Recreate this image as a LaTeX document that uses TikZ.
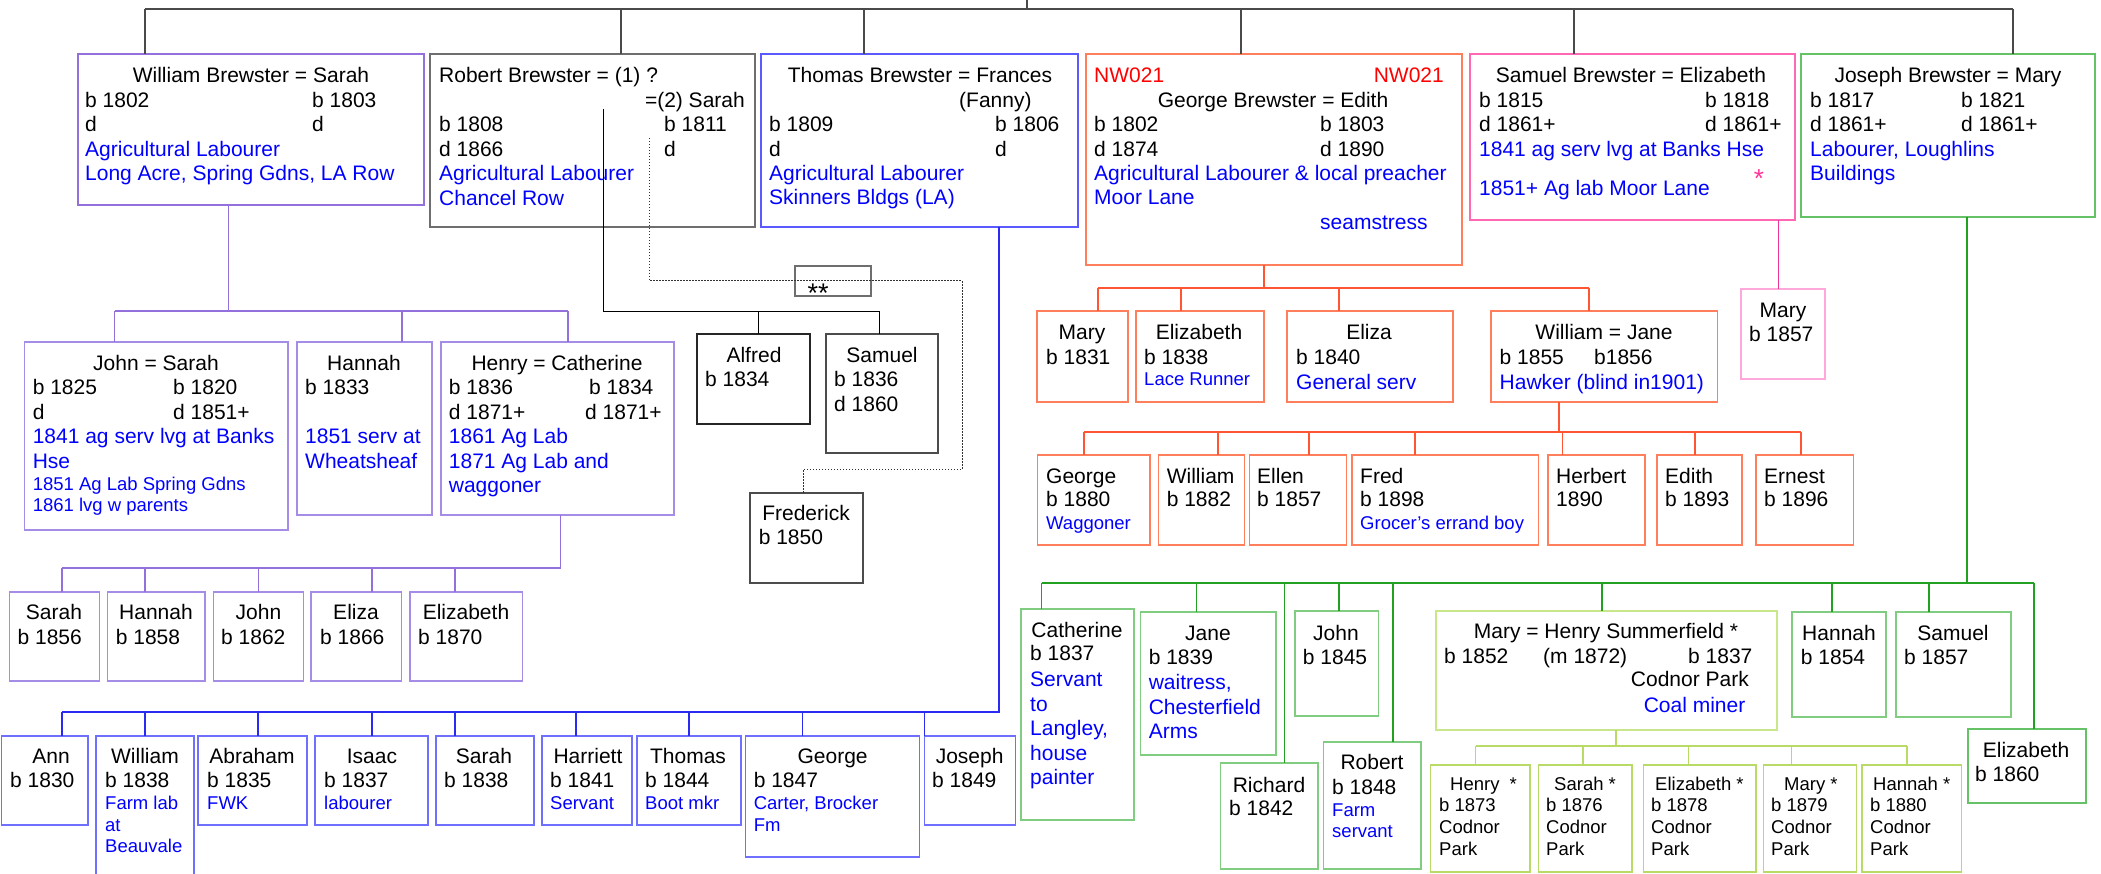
\documentclass[tikz,border=0pt]{standalone}
\usepackage{fontspec}
\setmainfont{Liberation Sans}

\definecolor{topcol}{HTML}{4A4A4A}
\definecolor{rgraycol}{HTML}{6E6E6E}
\definecolor{wpurcol}{HTML}{9370DB}
\definecolor{wkidcol}{HTML}{A58CE6}
\definecolor{tboxcol}{HTML}{5A5AFF}
\definecolor{tlinecol}{HTML}{2A2AF2}
\definecolor{tkidcol}{HTML}{7070FF}
\definecolor{gboxcol}{HTML}{FF7F5C}
\definecolor{glinecol}{HTML}{FF5533}
\definecolor{sboxcol}{HTML}{FF69B4}
\definecolor{slinecol}{HTML}{EE3399}
\definecolor{skidcol}{HTML}{FFA8DC}
\definecolor{jboxcol}{HTML}{66C266}
\definecolor{jlinecol}{HTML}{22A022}
\definecolor{jkidcol}{HTML}{80CC80}
\definecolor{mboxcol}{HTML}{C8E68A}
\definecolor{mkidcol}{HTML}{B8DA66}
\definecolor{jobcol}{HTML}{0000FF}
\definecolor{nwredcol}{HTML}{FF0000}
\definecolor{starcol}{HTML}{FF3399}

\tikzstyle{pbox}=[draw, rectangle, anchor=north west, inner sep=0pt, outer sep=0pt, line width=1.2pt]
\tikzstyle{nm}=[inner sep=0pt, text height=15pt, text depth=0pt, font=\fontsize{21}{24.5}\selectfont]
\tikzstyle{lt}=[nm, anchor=west]
\tikzstyle{ct}=[nm]
\tikzstyle{job}=[lt, text=jobcol]
\tikzstyle{sm}=[inner sep=0pt, anchor=west, text height=13.3pt, text depth=0pt, font=\fontsize{18.5}{21.5}\selectfont]
\tikzstyle{sjob}=[sm, text=jobcol]
\tikzstyle{toplink}=[line width=1.5pt, draw=topcol]
\tikzstyle{wlink}=[line width=1.2pt, draw=wpurcol]
\tikzstyle{rlink}=[line width=0.9pt, draw=black]
\tikzstyle{rdot}=[line width=1pt, draw=black!80, dash pattern=on 1.5pt off 1.5pt]
\tikzstyle{tlink}=[line width=1.2pt, draw=tlinecol]
\tikzstyle{glink}=[line width=1.2pt, draw=glinecol]
\tikzstyle{slink}=[line width=1pt, draw=slinecol]
\tikzstyle{jlink}=[line width=1.2pt, draw=jlinecol]
\tikzstyle{mlink}=[line width=1.2pt, draw=mkidcol]

\begin{document}
\begin{tikzpicture}[x=1pt,y=-1pt]
\useasboundingbox (0,0) rectangle (2101,874);

% the six couples
\node[pbox, draw=wpurcol, minimum width=346, minimum height=151] (wb) at (78,54) {};
\node[pbox, draw=rgraycol, minimum width=325, minimum height=173] (rb) at (430,54) {};
\node[pbox, draw=tboxcol, minimum width=317, minimum height=173] (tb) at (761,54) {};
\node[pbox, draw=gboxcol, minimum width=376, minimum height=211] (gb) at (1086,54) {};
\node[pbox, draw=sboxcol, minimum width=325, minimum height=166] (sb) at (1470,54) {};
\node[pbox, draw=jboxcol, minimum width=294, minimum height=163] (jb) at (1801,54) {};

\coordinate (pa) at (1027,0);
\coordinate (tl) at (145,9);
\coordinate (tr) at (2013,9);
\draw[toplink] (pa) -- (pa |- tl);
\draw[toplink] (tl) -- (tr);
\foreach \x/\n in {145/wb,621/rb,864/tb,1241/gb,1574/sb,2013/jb}
  \draw[toplink] (\x,9) -- (\x,9 |- \n.north);

\node[ct] (wbt1) at (251,75) {William Brewster = Sarah};
\node[lt] (wbt2) at (85,100) {b 1802};
\node[lt] (wbt3) at (312,100) {b 1803};
\node[lt] (wbt4) at (85,124) {d};
\node[lt] (wbt5) at (312,124) {d};
\node[job] (wbt6) at (85,149) {Agricultural Labourer};
\node[job] (wbt7) at (85,173) {Long Acre, Spring Gdns, LA Row};

\node[lt] (rbt1) at (439,75) {Robert Brewster = (1) ?};
\node[nm, anchor=east] (rbt2) at (745,100) {=(2) Sarah};
\node[lt] (rbt3) at (439,124) {b 1808};
\node[lt] (rbt4) at (664,124) {b 1811};
\node[lt] (rbt5) at (439,149) {d 1866};
\node[lt] (rbt6) at (664,149) {d};
\node[job] (rbt7) at (439,173) {Agricultural Labourer};
\node[job] (rbt8) at (439,198) {Chancel Row};

\node[ct] (tbt1) at (920,75) {Thomas Brewster = Frances};
\node[lt] (tbt2) at (959,100) {(Fanny)};
\node[lt] (tbt3) at (769,124) {b 1809};
\node[lt] (tbt4) at (995,124) {b 1806};
\node[lt] (tbt5) at (769,149) {d};
\node[lt] (tbt6) at (995,149) {d};
\node[job] (tbt7) at (769,173) {Agricultural Labourer};
\node[job] (tbt8) at (769,197) {Skinners Bldgs (LA)};

\node[lt, text=nwredcol] (gbt1) at (1094,75) {NW021};
\node[nm, anchor=east, text=nwredcol] (gbt2) at (1444,75) {NW021};
\node[ct] (gbt3) at (1273,100) {George Brewster = Edith};
\node[lt] (gbt4) at (1094,124) {b 1802};
\node[lt] (gbt5) at (1320,124) {b 1803};
\node[lt] (gbt6) at (1094,149) {d 1874};
\node[lt] (gbt7) at (1320,149) {d 1890};
\node[job] (gbt8) at (1094,173) {Agricultural Labourer \& local preacher};
\node[job] (gbt9) at (1094,197) {Moor Lane};
\node[job] (gbt10) at (1320,222) {seamstress};

\node[ct] (sbt1) at (1631,75) {Samuel Brewster = Elizabeth};
\node[lt] (sbt2) at (1479,100) {b 1815};
\node[lt] (sbt3) at (1705,100) {b 1818};
\node[lt] (sbt4) at (1479,124) {d 1861+};
\node[lt] (sbt5) at (1705,124) {d 1861+};
\node[job] (sbt6) at (1479,149) {1841 ag serv lvg at Banks Hse};
\node[job] (sbt7) at (1479,188) {1851+ Ag lab Moor Lane};
\node[inner sep=0pt, anchor=base, text=starcol, font=\fontsize{26}{30}\selectfont] (sbt8) at (1759,188) {*};

\node[ct] (jbt1) at (1948,75) {Joseph Brewster = Mary};
\node[lt] (jbt2) at (1810,100) {b 1817};
\node[lt] (jbt3) at (1961,100) {b 1821};
\node[lt] (jbt4) at (1810,124) {d 1861+};
\node[lt] (jbt5) at (1961,124) {d 1861+};
\node[job] (jbt6) at (1810,149) {Labourer, Loughlins};
\node[job] (jbt7) at (1810,173) {Buildings};

% William's children
\node[pbox, draw=wkidcol, minimum width=263.5, minimum height=188] (wjohn) at (24.5,342) {};
\node[pbox, draw=wkidcol, minimum width=135, minimum height=173] (whannah) at (297,342) {};
\node[pbox, draw=wkidcol, minimum width=233, minimum height=173] (whenry) at (441,342) {};
\coordinate (wbar) at (228.6,311);
\draw[wlink] (wbar |- wb.south) -- (wbar);
\draw[wlink] (114.7,311) -- (568,311);
\foreach \x/\n in {114.7/wjohn,402/whannah,568/whenry}
  \draw[wlink] (\x,311) -- (\x,311 |- \n.north);

\node[ct] (wjohn-a) at (156,363) {John = Sarah};
\node[lt] (wjohn-b) at (32.6,387) {b 1825};
\node[lt] (wjohn-c) at (173,387) {b 1820};
\node[lt] (wjohn-d) at (32.6,412) {d};
\node[lt] (wjohn-e) at (173,412) {d 1851+};
\node[job] (wjohn-f) at (32.6,436) {1841 ag serv lvg at Banks};
\node[job] (wjohn-g) at (32.6,461) {Hse};
\node[sjob] (wjohn-h) at (32.6,484) {1851 Ag Lab Spring Gdns};
\node[sjob] (wjohn-i) at (32.6,505) {1861 lvg w parents};

\node[ct] (whannah-a) at (364,363) {Hannah};
\node[lt] (whannah-b) at (305,387) {b 1833};
\node[job] (whannah-c) at (305,436) {1851 serv at};
\node[job] (whannah-d) at (305,461) {Wheatsheaf};

\node[ct] (whenry-a) at (557,363) {Henry = Catherine};
\node[lt] (whenry-b) at (448.7,387) {b 1836};
\node[lt] (whenry-c) at (589,387) {b 1834};
\node[lt] (whenry-d) at (448.7,412) {d 1871+};
\node[lt] (whenry-e) at (585,412) {d 1871+};
\node[job] (whenry-f) at (448.7,436) {1861 Ag Lab};
\node[job] (whenry-g) at (448.7,461) {1871 Ag Lab and};
\node[job] (whenry-h) at (448.7,485) {waggoner};

% Henry's children
\foreach \n/\x/\w in {hsarah/9.6/90,hhannah/107.4/97.6,hjohn/213.5/90,heliza/311/90.7,helizabeth/410/112.5}
  \node[pbox, draw=wkidcol, minimum width=\w, minimum height=89] (\n) at (\x,592) {};
\coordinate (hbar) at (560.7,568);
\draw[wlink] (hbar |- whenry.south) -- (hbar);
\draw[wlink] (62,568) -- (hbar);
\foreach \x/\n in {62/hsarah,145/hhannah,258.5/hjohn,372/heliza,455/helizabeth}
  \draw[wlink] (\x,568) -- (\x,568 |- \n.north);
\foreach \n/\cx/\lx/\nme/\yr in {hsarah/54/17.4/Sarah/1856,hhannah/156/115.7/Hannah/1858,hjohn/258.5/221/John/1862,heliza/356/320/Eliza/1866,helizabeth/466/418/Elizabeth/1870}{
  \node[ct] (\n-a) at (\cx,612) {\nme};
  \node[lt] (\n-b) at (\lx,637) {b \yr};
}

% Robert's children
\node[pbox, draw=black!85, minimum width=113, minimum height=90] (ralfred) at (697,334) {};
\node[pbox, draw=black!70, minimum width=112, minimum height=119] (rsamuel) at (826,334) {};
\node[pbox, draw=black!70, minimum width=113, minimum height=90] (rfred) at (750,493) {};
\node[pbox, draw=rgraycol, minimum width=76, minimum height=30] (rstar) at (795,266) {};
\node[inner sep=0pt, anchor=base, font=\fontsize{27}{30}\selectfont] (rstar-a) at (818,303) {**};
\coordinate (rm1) at (603,109);
\coordinate (rm2) at (649,138);
\draw[rlink] (rm1) -- (603,311) -- (879,311) -- (879,0 |- rsamuel.north);
\draw[rlink] (758,311) -- (758,0 |- ralfred.north);
\draw[rdot] (rm2) |- (962,281) |- (803,469) -- (803,0 |- rfred.north);

\node[ct] (ralfred-a) at (754,355) {Alfred};
\node[lt] (ralfred-b) at (705,379) {b 1834};
\node[ct] (rsamuel-a) at (882,355) {Samuel};
\node[lt] (rsamuel-b) at (834,379) {b 1836};
\node[lt] (rsamuel-c) at (834,404) {d 1860};
\node[ct] (rfred-a) at (806,513) {Frederick};
\node[lt] (rfred-b) at (758.6,537) {b 1850};

% Thomas's children
\foreach \n/\x/\w/\h in {tann/1.4/86.6/89,twilliam/96/98/150,tabraham/198/109/89,tisaac/315/113/89,tsarah/436/98/89,tharriett/542/90/89,tthomas/637/104/89,tgeorge/745.5/174/121,tjoseph/924.5/91/89}
  \node[pbox, draw=tkidcol, minimum width=\w, minimum height=\h] (\n) at (\x,736) {};
\draw[tlink] (999,0 |- tb.south) |- (62,712);
\foreach \x/\n in {62/tann,145/twilliam,258/tabraham,372/tisaac,455/tsarah,576/tharriett,689/tthomas,802.7/tgeorge,924.5/tjoseph}
  \draw[tlink] (\x,712) -- (\x,712 |- \n.north);
\foreach \n/\cx/\lx/\nme/\yr in {tann/51/10/Ann/1830,twilliam/145/105/William/1838,tabraham/252/207/Abraham/1835,tisaac/372/324/Isaac/1837,tsarah/484/444/Sarah/1838,tharriett/588/550/Harriett/1841,tthomas/688/645/Thomas/1844,tgeorge/832.6/753.6/George/1847,tjoseph/969.6/932/Joseph/1849}{
  \node[ct] (\n-a) at (\cx,756) {\nme};
  \node[lt] (\n-b) at (\lx,780) {b \yr};
}
\node[sjob] (twilliam-c) at (105,803) {Farm lab};
\node[sjob] (twilliam-d) at (105,825) {at};
\node[sjob] (twilliam-e) at (105,846) {Beauvale};
\node[sjob] (tabraham-c) at (207,803) {FWK};
\node[sjob] (tisaac-c) at (324,803) {labourer};
\node[sjob] (tharriett-c) at (550,803) {Servant};
\node[sjob] (tthomas-c) at (645,803) {Boot mkr};
\node[sjob] (tgeorge-c) at (753.6,803) {Carter, Brocker};
\node[sjob] (tgeorge-d) at (753.6,825) {Fm};

% George's children
\foreach \n/\x/\w in {gmary/1037/91,gelizabeth/1136/128,geliza/1287/166,gwilliam/1491/226.5}
  \node[pbox, draw=gboxcol, minimum width=\w, minimum height=91] (\n) at (\x,311) {};
\draw[glink] (1264,0 |- gb.south) -- (1264,288);
\draw[glink] (1098,288) -- (1589,288);
\foreach \x/\n in {1098/gmary,1181/gelizabeth,1339/geliza,1589/gwilliam}
  \draw[glink] (\x,288) -- (\x,288 |- \n.north);
\node[ct] (gmary-a) at (1082,332) {Mary};
\node[lt] (gmary-b) at (1046,357) {b 1831};
\node[ct] (gelizabeth-a) at (1199,332) {Elizabeth};
\node[lt] (gelizabeth-b) at (1144,357) {b 1838};
\node[sjob] (gelizabeth-c) at (1144,379) {Lace Runner};
\node[ct] (geliza-a) at (1369,332) {Eliza};
\node[lt] (geliza-b) at (1296,357) {b 1840};
\node[job] (geliza-c) at (1296,382) {General serv};
\node[ct] (gwilliam-a) at (1604,332) {William = Jane};
\node[lt] (gwilliam-b) at (1499.5,357) {b 1855};
\node[lt] (gwilliam-c) at (1594,357) {b1856};
\node[job] (gwilliam-d) at (1499.5,382) {Hawker (blind in1901)};

% William and Jane's children
\foreach \n/\x/\w in {wgeorge/1037.6/112.4,wwilliam/1158.6/86,wellen/1249.6/97,wfred/1352/186.6,wherbert/1548/97,wedith/1657/85,wernest/1756/97.6}
  \node[pbox, draw=gboxcol, minimum width=\w, minimum height=90] (\n) at (\x,455) {};
\draw[glink] (1559,0 |- gwilliam.south) -- (1559,432);
\draw[glink] (1084,432) -- (1801,432);
\foreach \x/\n in {1084/wgeorge,1218/wwilliam,1309/wellen,1415/wfred,1562.5/wherbert,1695/wedith,1801/wernest}
  \draw[glink] (\x,432) -- (\x,432 |- \n.north);
\foreach \n/\lx/\nme/\yr in {wgeorge/1046/George/b 1880,wwilliam/1166.6/William/b 1882,wellen/1257/Ellen/b 1857,wfred/1360/Fred/b 1898,wherbert/1556/Herbert/1890,wedith/1665/Edith/b 1893,wernest/1764/Ernest/b 1896}{
  \node[lt] (\n-a) at (\lx,476) {\nme};
  \node[lt] (\n-b) at (\lx,499) {\yr};
}
\node[sjob] (wgeorge-c) at (1046,523) {Waggoner};
\node[sjob] (wfred-c) at (1360,523) {Grocer’s errand boy};

% Samuel's child
\node[pbox, draw=skidcol, minimum width=84, minimum height=90] (smary) at (1741,289) {};
\draw[slink] (1778,0 |- sb.south) -- (1778,0 |- smary.north);
\node[ct] (smary-a) at (1783,310) {Mary};
\node[lt] (smary-b) at (1749,334) {b 1857};

% Joseph's children
\node[pbox, draw=jkidcol, minimum width=113, minimum height=211] (jcath) at (1021,609) {};
\node[pbox, draw=jkidcol, minimum width=135.4, minimum height=143] (jjane) at (1140.6,612) {};
\node[pbox, draw=jkidcol, minimum width=83.6, minimum height=105] (jjohn) at (1295,611) {};
\node[pbox, draw=jkidcol, minimum width=97.5, minimum height=106] (jrichard) at (1220.5,763) {};
\node[pbox, draw=jkidcol, minimum width=97.3, minimum height=127] (jrobert) at (1323.7,742) {};
\node[pbox, draw=mboxcol, minimum width=341, minimum height=119] (jmary) at (1436,611) {};
\node[pbox, draw=jkidcol, minimum width=94, minimum height=105] (jhannah) at (1792,612) {};
\node[pbox, draw=jkidcol, minimum width=115, minimum height=105] (jsamuel) at (1896,612) {};
\node[pbox, draw=jboxcol, minimum width=118, minimum height=74] (jeliz) at (1968,729) {};
\draw[jlink] (1967,0 |- jb.south) -- (1967,583);
\draw[jlink] (1041.5,583) -- (2034,583);
\foreach \x/\n in {1041.5/jcath,1196.4/jjane,1284.8/jrichard,1339/jjohn,1393/jrobert,1602/jmary,1832/jhannah,1929/jsamuel,2034/jeliz}
  \draw[jlink] (\x,583) -- (\x,583 |- \n.north);

\node[ct] (jcath-a) at (1077,630) {Catherine};
\node[lt] (jcath-b) at (1030,653) {b 1837};
\foreach \t [count=\i] in {Servant,to,{Langley,},house,painter}
  \node[job] (jcath-\i) at (1030,{679+24.5*(\i-1)}) {\t};
\node[ct] (jjane-a) at (1208,633) {Jane};
\node[lt] (jjane-b) at (1148.6,657) {b 1839};
\foreach \t [count=\i] in {{waitress,},Chesterfield,Arms}
  \node[job] (jjane-\i) at (1148.6,{682+24.5*(\i-1)}) {\t};
\node[ct] (jjohn-a) at (1336,633) {John};
\node[lt] (jjohn-b) at (1302.7,657) {b 1845};
\node[ct] (jrichard-a) at (1269,785) {Richard};
\node[lt] (jrichard-b) at (1229,808) {b 1842};
\node[ct] (jrobert-a) at (1372,762) {Robert};
\node[lt] (jrobert-b) at (1332,787) {b 1848};
\node[sjob] (jrobert-c) at (1332,810) {Farm};
\node[sjob] (jrobert-d) at (1332,831) {servant};
\node[ct] (jmary-a) at (1606,631) {Mary = Henry Summerfield *};
\node[lt] (jmary-b) at (1444,656) {b 1852};
\node[lt] (jmary-c) at (1543,656) {(m 1872)};
\node[lt] (jmary-d) at (1688,656) {b 1837};
\node[nm, anchor=east] (jmary-e) at (1749,679) {Codnor Park};
\node[nm, anchor=east, text=jobcol] (jmary-f) at (1745.5,705) {Coal miner};
\node[ct] (jhannah-a) at (1839,633) {Hannah};
\node[lt] (jhannah-b) at (1800.7,657) {b 1854};
\node[ct] (jsamuel-a) at (1953,633) {Samuel};
\node[lt] (jsamuel-b) at (1904,657) {b 1857};
\node[ct] (jeliz-a) at (2026,750) {Elizabeth};
\node[lt] (jeliz-b) at (1975,774) {b 1860};

% Mary and Henry's children
\foreach \n/\x/\w in {mhenry/1430.6/99.4,msarah/1538.6/93.4,meliz/1643.4/112.6,mmary/1763.4/93.4,mhannah/1862/99.6}
  \node[pbox, draw=mkidcol, minimum width=\w, minimum height=107] (\n) at (\x,765) {};
\draw[mlink] (1616,0 |- jmary.south) -- (1616,746);
\draw[mlink] (1475.6,746) -- (1907,746);
\foreach \x/\n in {1475.6/mhenry,1583/msarah,1688.5/meliz,1791.5/mmary,1907/mhannah}
  \draw[mlink] (\x,746) -- (\x,746 |- \n.north);
\foreach \n/\nx/\nme/\lx/\yr in {mhenry/1450/Henry\hspace{10pt}*/1439/1873,msarah/1554/Sarah */1546/1876,meliz/1655/Elizabeth */1651/1878,mmary/1784/Mary */1771/1879,mhannah/1873/Hannah */1870/1880}{
  \node[sm] (\n-a) at (\nx,784) {\nme};
  \node[sm] (\n-b) at (\lx,805) {b \yr};
  \node[sm] (\n-c) at (\lx,827) {Codnor};
  \node[sm] (\n-d) at (\lx,849) {Park};
}
\end{tikzpicture}
\end{document}
